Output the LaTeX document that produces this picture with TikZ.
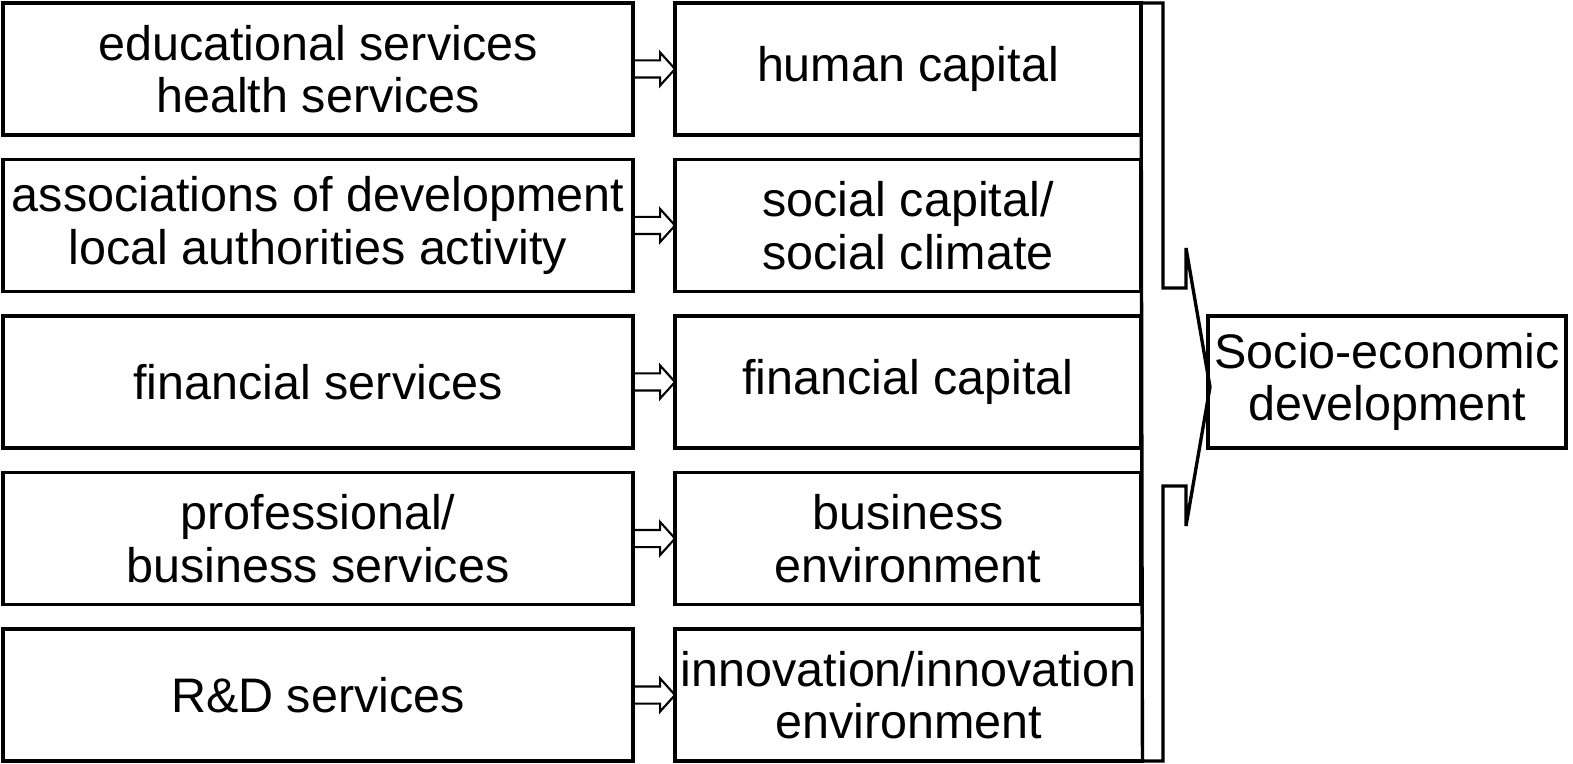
\documentclass[tikz,border=0pt]{standalone}
\usepackage{fontspec}
\setmainfont{Liberation Sans}
\usetikzlibrary{positioning,shapes.arrows}

\begin{document}
\begin{tikzpicture}[node distance=0.49cm and 0.84cm,
                    box/.style={rectangle,draw,line width=1.9pt,outer sep=0pt,align=center,
                                minimum height=2.64cm,font=\fontsize{27.6}{29.8}\selectfont},
                    lbox/.style={box,minimum width=12.6cm},
                    mbox/.style={box,minimum width=9.32cm},
                    push/.style={single arrow,draw,line width=1.2pt,inner sep=0pt,outer sep=0pt,
                                 text height=0.3cm,text depth=0pt,minimum height=0.84cm,
                                 single arrow head extend=0.16cm,single arrow tip angle=96}]
                \useasboundingbox (0,0) rectangle (31.46,-15.28);
                \node[lbox](a1) at (6.36,-1.38){educational services\\health services};
                \node[lbox](a2)[below =of a1]{associations of development\\local authorities activity};
                \node[lbox](a3)[below =of a2]{financial services};
                \node[lbox](a4)[below =of a3]{professional/\\business services};
                \node[lbox](a5)[below =of a4]{R\&D services};
                \node[mbox](b1)[right =of a1]{human capital};
                \node[mbox](b2)[right =of a2]{social capital/\\social climate};
                \node[mbox](b3)[right =of a3]{financial capital};
                \node[mbox](b4)[right =of a4]{business\\environment};
                \node[mbox](b5)[right =of a5]{innovation/innovation\\environment};
                \node[box,minimum width=7.16cm](d)[right =1.34cm of b3]{Socio-economic\\development};
                \foreach \i in {1,...,5}
                    \node[push](p\i)[right =0pt of a\i]{};
                \coordinate (tip) at ([shift={(0.04,-0.10)}]d.west);
                \draw[line width=1.9pt,line join=miter]
                        (b1.north east) -| ([shift={(-0.94,1.98)}]tip)
                            -- ([shift={(-0.48,1.98)}]tip)
                            -- ([shift={(-0.48,2.78)}]tip)
                            -- (tip)
                            -- ([shift={(-0.48,-2.78)}]tip)
                            -- ([shift={(-0.48,-1.98)}]tip)
                            -- ([shift={(-0.94,-1.98)}]tip)
                            |- (b5.south east) -- cycle;
            \end{tikzpicture}
\end{document}
